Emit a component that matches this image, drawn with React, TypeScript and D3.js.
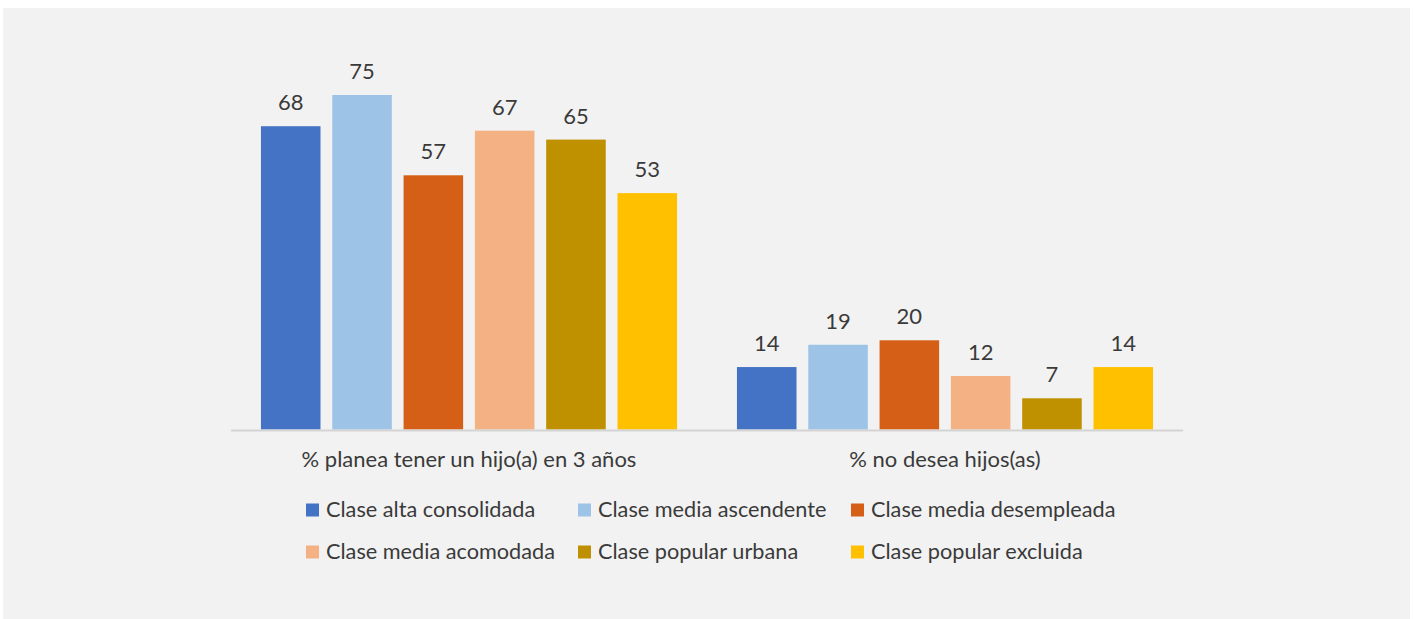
import React from "react";
import * as d3 from "d3";

const categories = ["% planea tener un hijo(a) en 3 años", "% no desea hijos(as)"];
const seriesNames = [
  "Clase alta consolidada",
  "Clase media ascendente",
  "Clase media desempleada",
  "Clase media acomodada",
  "Clase popular urbana",
  "Clase popular excluida",
];
const planeaValues = [68, 75, 57, 67, 65, 53];
const noDeseaValues = [14, 19, 20, 12, 7, 14];
const colors = ["#4472c4", "#9dc3e6", "#d65f17", "#f4b183", "#bf9000", "#ffc000"];

const W = 1413;
const H = 619;
const FONT = "Lato, 'Open Sans', sans-serif";
const TEXT = "#3a3a3a";

export default function App() {
  const seriesValues = [planeaValues, noDeseaValues];
  const x0 = d3.scaleBand<string>().domain(categories).range([231, 1183]).padding(0);
  const x1 = d3
    .scaleBand<string>()
    .domain(seriesNames)
    .range([0, x0.bandwidth()])
    .paddingInner(0.165)
    .paddingOuter(0.42);
  const baseY = 429.5;
  const y = d3.scaleLinear().domain([0, 80]).range([baseY, baseY - 80 * 4.46]);

  const legendCols = [306, 578, 851];
  const legendRows = [510, 552];

  return (
    <svg
      width={W}
      height={H}
      style={{ position: "absolute", left: 0, top: 0, display: "block" }}
      fontFamily={FONT}
    >
      <rect x={0} y={0} width={W} height={H} fill="#ffffff" />
      <rect x={3} y={8} width={1407} height={611} fill="#f2f2f2" />
      {categories.map((cat, ci) => (
        <g key={cat} transform={`translate(${x0(cat)},0)`}>
          {seriesNames.map((s, si) => {
            const v = seriesValues[ci][si];
            const bx = x1(s)!;
            return (
              <g key={s}>
                <rect
                  x={bx}
                  y={y(v)}
                  width={x1.bandwidth()}
                  height={baseY - y(v)}
                  fill={colors[si]}
                />
                <text
                  x={bx + x1.bandwidth() / 2}
                  y={y(v) - 16}
                  textAnchor="middle"
                  fontSize={22}
                  fill={TEXT}
                >
                  {v}
                </text>
              </g>
            );
          })}
          <text
            x={x0.bandwidth() / 2}
            y={467}
            textAnchor="middle"
            fontSize={22}
            fill={TEXT}
          >
            {cat}
          </text>
        </g>
      ))}
      <line x1={231} x2={1183} y1={430.5} y2={430.5} stroke="#d4d4d4" strokeWidth={2} />
      {seriesNames.map((s, i) => {
        const col = i % 3;
        const row = Math.floor(i / 3);
        const lx = legendCols[col];
        const ly = legendRows[row];
        return (
          <g key={s}>
            <rect x={lx} y={ly - 6.5} width={13} height={13} fill={colors[i]} />
            <text x={lx + 20} y={ly + 7} fontSize={21.7} fill={TEXT}>
              {s}
            </text>
          </g>
        );
      })}
    </svg>
  );
}
